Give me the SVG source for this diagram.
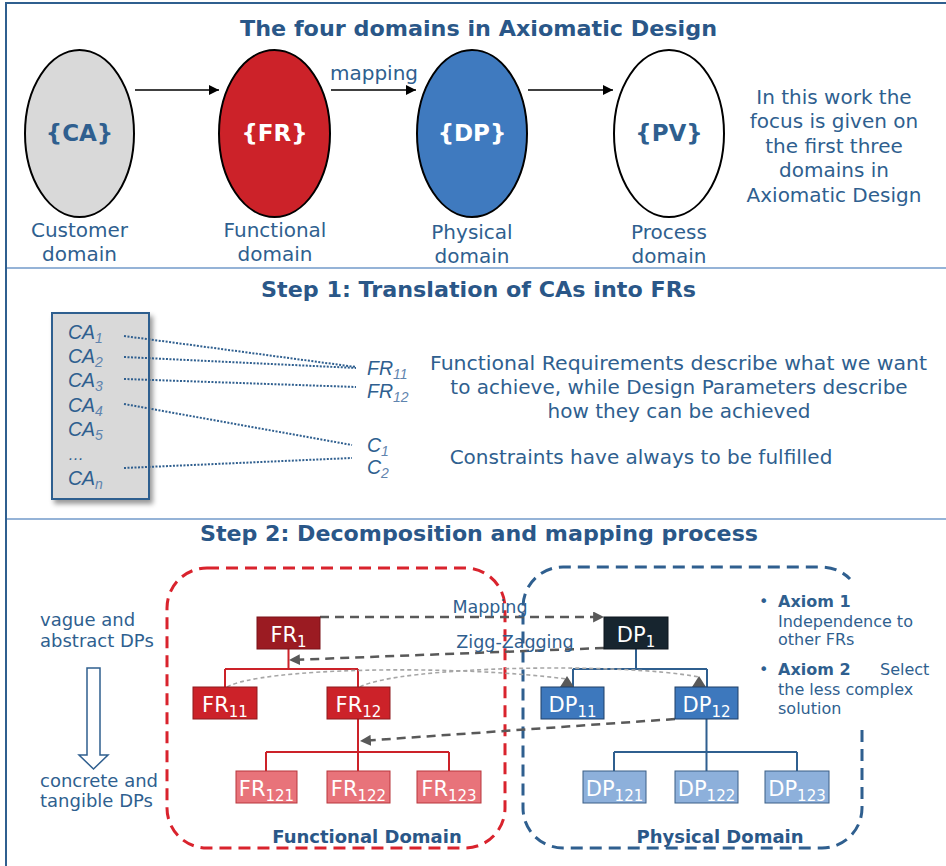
<svg xmlns="http://www.w3.org/2000/svg" width="946" height="866" viewBox="0 0 946 866">
<style>
text{font-family:"DejaVu Sans","Verdana",sans-serif;fill:#2F5F8F}
.title{font-weight:bold;font-size:22px;fill:#2A5788}
.t20{font-size:20px}
.lbl{font-size:20px;text-anchor:middle}
.ell{stroke:#000;stroke-width:2}
.brace{font-weight:bold;font-size:23px;text-anchor:middle}
.ca{font-family:"Liberation Sans",Arial,sans-serif;font-style:italic;font-size:19.5px;fill:#2F5F8F}
.sub{font-size:14px;fill:#5F84AE}
.dot{fill:none;stroke:#2F5F8F;stroke-width:2;stroke-dasharray:2 1.5}
.node text{font-size:21px;fill:#fff;text-anchor:middle}
.ns{font-size:15px}
.redc{fill:none;stroke:#CC2229;stroke-width:2}
.bluec{fill:none;stroke:#2F5F8F;stroke-width:2}
.gd{fill:none;stroke:#595959;stroke-width:2.5;stroke-dasharray:9 6}
.gl{fill:none;stroke:#A6A6A6;stroke-width:1.6;stroke-dasharray:4 3}
.s17{font-size:18px}
.ax{font-size:16px}
.axb{font-size:16px;font-weight:bold}
.sep{stroke:#95B3D7;stroke-width:2}
</style>
<defs>
<marker id="blk" viewBox="0 0 10 10" refX="10" refY="5" markerWidth="10" markerHeight="10" markerUnits="userSpaceOnUse" orient="auto"><path d="M0,0 L10,5 L0,10 z" fill="#000"/></marker>
<marker id="gry" viewBox="0 0 10 10" refX="9" refY="5" markerWidth="11" markerHeight="11" markerUnits="userSpaceOnUse" orient="auto"><path d="M0,0 L10,5 L0,10 z" fill="#595959"/></marker>
<filter id="sh" x="-20%" y="-10%" width="140%" height="130%"><feDropShadow dx="3" dy="4" stdDeviation="2.5" flood-color="#000" flood-opacity="0.4"/></filter>
</defs>

<!-- frame -->
<g id="frame">
<line x1="5" y1="3" x2="946" y2="3" stroke="#2F5F8F" stroke-width="2"/>
<line x1="6" y1="2" x2="6" y2="866" stroke="#2F5F8F" stroke-width="2"/>
<line class="sep" x1="7" y1="268" x2="946" y2="268"/>
<line class="sep" x1="7" y1="519" x2="946" y2="519"/>
</g>

<!-- Section 1 -->
<text class="title" x="478.5" y="36" text-anchor="middle" textLength="477" lengthAdjust="spacingAndGlyphs">The four domains in Axiomatic Design</text>

<g id="connectors-top">
<line x1="135" y1="90" x2="219" y2="90" stroke="#000" stroke-width="1.5" marker-end="url(#blk)"/>
<line x1="331" y1="90" x2="416" y2="90" stroke="#000" stroke-width="1.5" marker-end="url(#blk)"/>
<line x1="528" y1="90" x2="613" y2="90" stroke="#000" stroke-width="1.5" marker-end="url(#blk)"/>
<text class="t20" x="374" y="80" text-anchor="middle">mapping</text>
</g>

<g id="ca-domain">
<ellipse class="ell" cx="79.5" cy="133.5" rx="54.5" ry="83.5" fill="#D9D9D9"/>
<text class="brace" x="79.5" y="141">{CA}</text>
<text class="lbl" x="79.5" y="237">Customer</text>
<text class="lbl" x="79.5" y="261">domain</text>
</g>
<g id="fr-domain">
<ellipse class="ell" cx="274.5" cy="133.5" rx="55.5" ry="83.5" fill="#CC2229"/>
<text class="brace" x="274.5" y="141" style="fill:#fff">{FR}</text>
<text class="lbl" x="275" y="237">Functional</text>
<text class="lbl" x="275" y="261">domain</text>
</g>
<g id="dp-domain">
<ellipse class="ell" cx="472" cy="133.5" rx="55" ry="83.5" fill="#3F7ABF"/>
<text class="brace" x="472" y="141" style="fill:#fff">{DP}</text>
<text class="lbl" x="472" y="239">Physical</text>
<text class="lbl" x="472" y="263">domain</text>
</g>
<g id="pv-domain">
<ellipse class="ell" cx="669" cy="133.5" rx="55" ry="83.5" fill="#fff"/>
<text class="brace" x="669" y="141">{PV}</text>
<text class="lbl" x="669" y="239">Process</text>
<text class="lbl" x="669" y="263">domain</text>
</g>
<g id="focus-note">
<text class="lbl" x="834" y="104">In this work the</text>
<text class="lbl" x="834" y="128">focus is given on</text>
<text class="lbl" x="834" y="153">the first three</text>
<text class="lbl" x="834" y="177">domains in</text>
<text class="lbl" x="834" y="202">Axiomatic Design</text>
</g>

<!-- Section 2 -->
<text class="title" x="478.5" y="297" text-anchor="middle" textLength="435" lengthAdjust="spacingAndGlyphs">Step 1: Translation of CAs into FRs</text>

<g id="ca-list">
<rect x="52" y="313" width="97" height="186" fill="#D9D9D9" stroke="#2F5F8F" stroke-width="2" filter="url(#sh)"/>
<text class="ca" x="68" y="339">CA<tspan class="sub" dy="4">1</tspan></text>
<text class="ca" x="68" y="363">CA<tspan class="sub" dy="4">2</tspan></text>
<text class="ca" x="68" y="387">CA<tspan class="sub" dy="4">3</tspan></text>
<text class="ca" x="68" y="412">CA<tspan class="sub" dy="4">4</tspan></text>
<text class="ca" x="68" y="436">CA<tspan class="sub" dy="4">5</tspan></text>
<text class="ca" x="68" y="460" style="font-size:16px">…</text>
<text class="ca" x="68" y="485">CA<tspan class="sub" dy="4">n</tspan></text>
</g>

<g id="step1-connectors">
<line class="dot" x1="124" y1="336" x2="356" y2="367"/>
<line class="dot" x1="124" y1="357" x2="356" y2="368"/>
<line class="dot" x1="124" y1="379" x2="356" y2="387"/>
<line class="dot" x1="124" y1="404" x2="352" y2="445"/>
<line class="dot" x1="124" y1="468" x2="352" y2="458"/>
</g>

<g id="fr-c-list">
<text class="ca" x="367" y="375">FR<tspan class="sub" dy="4">11</tspan></text>
<text class="ca" x="367" y="398">FR<tspan class="sub" dy="4">12</tspan></text>
<text class="ca" x="367" y="452">C<tspan class="sub" dy="4">1</tspan></text>
<text class="ca" x="367" y="474">C<tspan class="sub" dy="4">2</tspan></text>
</g>

<g id="step1-notes">
<text class="lbl" x="678.5" y="370" textLength="497" lengthAdjust="spacingAndGlyphs">Functional Requirements describe what we want</text>
<text class="lbl" x="679" y="394">to achieve, while Design Parameters describe</text>
<text class="lbl" x="679" y="418">how they can be achieved</text>
<text class="lbl" x="641" y="464">Constraints have always to be fulfilled</text>
</g>

<!-- Section 3 -->
<text class="title" x="479" y="541" text-anchor="middle" textLength="558" lengthAdjust="spacingAndGlyphs">Step 2: Decomposition and mapping process</text>

<g id="abstraction-arrow">
<text class="s17" x="40" y="626">vague and</text>
<text class="s17" x="40" y="647">abstract DPs</text>
<polygon points="87,668 100,668 100,755 108,755 93.5,769 79,755 87,755" fill="#fff" stroke="#2F5F8F" stroke-width="1.5"/>
<text class="s17" x="40" y="787">concrete and</text>
<text class="s17" x="40" y="807">tangible DPs</text>
</g>

<g id="functional-domain">
<rect x="167" y="568" width="338" height="280" rx="40" ry="40" fill="none" stroke="#D9232D" stroke-width="3" stroke-dasharray="12 7"/>
<text x="367" y="843" text-anchor="middle" style="font-weight:bold;font-size:18px;fill:#2A5788">Functional Domain</text>
</g>
<g id="physical-domain">
<path d="M862,730 L862,808 A40,40 0 0 1 822,848 L563,848 A40,40 0 0 1 523,808 L523,607 A40,40 0 0 1 563,567 L822,567 A40,40 0 0 1 850,579" fill="none" stroke="#2F5F8F" stroke-width="3" stroke-dasharray="12 7"/>
<text x="720" y="843" text-anchor="middle" style="font-weight:bold;font-size:18px;fill:#2A5788">Physical Domain</text>
</g>

<g id="connectors">
<path class="redc" d="M288.5,649 V669 M225,669 H358 M225,669 V687 M358,669 V687 M358,719 V752 M266,752 H449 M266,752 V771 M358,752 V771 M449,752 V771"/>
<path class="bluec" d="M636,649 V669 M573,669 H707 M573,669 V687 M707,669 V687 M706.5,719 V752 M614,752 H797 M614,752 V771 M706.5,752 V771 M797,752 V771"/>
<path class="gl" d="M227,687 C260,668 450,664 567,679"/>
<path class="gl" d="M360,687 C400,666 620,662 699,677"/>
<polygon points="560,687 567,676 574,687" fill="#595959"/>
<polygon points="692,687 699,676 706,687" fill="#595959"/>
<line class="gd" x1="320" y1="617" x2="603" y2="617" marker-end="url(#gry)"/>
<line class="gd" x1="604" y1="648" x2="290" y2="660" marker-end="url(#gry)"/>
<line class="gd" x1="675" y1="719" x2="361" y2="741" marker-end="url(#gry)"/>
<text class="s17" x="490" y="613" text-anchor="middle" style="font-size:17.5px">Mapping</text>
<text class="s17" x="515" y="648" text-anchor="middle" style="font-size:17.5px">Zigg-Zagging</text>
</g>

<g id="FR1" class="node"><rect x="257" y="617" width="63" height="32" fill="#9B1B22" stroke="#7A1218" stroke-width="1"/><text x="288.5" y="642">FR<tspan class="ns" dy="5">1</tspan></text></g>
<g id="FR11" class="node"><rect x="193" y="687" width="64" height="32" fill="#CC2229" stroke="#8E1A1F" stroke-width="1"/><text x="225" y="712">FR<tspan class="ns" dy="5">11</tspan></text></g>
<g id="FR12" class="node"><rect x="327" y="687" width="63" height="32" fill="#CC2229" stroke="#8E1A1F" stroke-width="1"/><text x="358.5" y="712">FR<tspan class="ns" dy="5">12</tspan></text></g>
<g id="FR121" class="node"><rect x="236" y="771" width="61" height="32" fill="#E8737A" stroke="#B8373D" stroke-width="1"/><text x="266.5" y="796">FR<tspan class="ns" dy="5">121</tspan></text></g>
<g id="FR122" class="node"><rect x="327" y="771" width="63" height="32" fill="#E8737A" stroke="#B8373D" stroke-width="1"/><text x="358.5" y="796">FR<tspan class="ns" dy="5">122</tspan></text></g>
<g id="FR123" class="node"><rect x="417" y="771" width="64" height="32" fill="#E8737A" stroke="#B8373D" stroke-width="1"/><text x="449" y="796">FR<tspan class="ns" dy="5">123</tspan></text></g>

<g id="DP1" class="node"><rect x="604" y="617" width="64" height="32" fill="#17252F" stroke="#0E171E" stroke-width="1"/><text x="636" y="642">DP<tspan class="ns" dy="5">1</tspan></text></g>
<g id="DP11" class="node"><rect x="541" y="687" width="63" height="32" fill="#3D78BD" stroke="#1F3F66" stroke-width="1"/><text x="572.5" y="712">DP<tspan class="ns" dy="5">11</tspan></text></g>
<g id="DP12" class="node"><rect x="675" y="687" width="63" height="32" fill="#3D78BD" stroke="#1F3F66" stroke-width="1"/><text x="706.5" y="712">DP<tspan class="ns" dy="5">12</tspan></text></g>
<g id="DP121" class="node"><rect x="583" y="771" width="63" height="32" fill="#8DB0DB" stroke="#3B5E86" stroke-width="1"/><text x="614.5" y="796">DP<tspan class="ns" dy="5">121</tspan></text></g>
<g id="DP122" class="node"><rect x="675" y="771" width="63" height="32" fill="#8DB0DB" stroke="#3B5E86" stroke-width="1"/><text x="706.5" y="796">DP<tspan class="ns" dy="5">122</tspan></text></g>
<g id="DP123" class="node"><rect x="765" y="771" width="64" height="32" fill="#8DB0DB" stroke="#3B5E86" stroke-width="1"/><text x="797" y="796">DP<tspan class="ns" dy="5">123</tspan></text></g>

<g id="axioms">
<text class="ax" x="759" y="607">•</text>
<text class="axb" x="778" y="607">Axiom 1</text>
<text class="ax" x="778" y="627">Independence to</text>
<text class="ax" x="778" y="645">other FRs</text>
<text class="ax" x="759" y="675">•</text>
<text class="axb" x="778" y="675">Axiom 2</text>
<text class="ax" x="880" y="675">Select</text>
<text class="ax" x="778" y="695">the less complex</text>
<text class="ax" x="778" y="714">solution</text>
</g>
</svg>
